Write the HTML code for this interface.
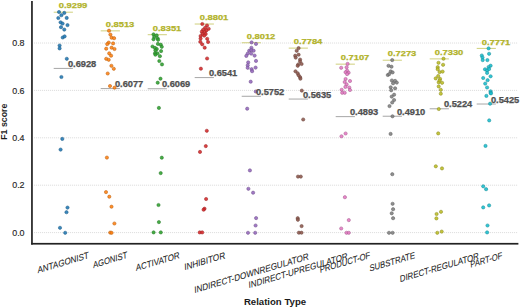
<!DOCTYPE html>
<html><head><meta charset="utf-8"><title>F1 score by Relation Type</title>
<style>
html,body{margin:0;padding:0;background:#fff;}
body{width:520px;height:307px;overflow:hidden;font-family:"Liberation Sans", sans-serif;}
svg{display:block;}
text{font-family:"Liberation Sans", sans-serif;}
</style></head><body>
<svg width="520" height="307" viewBox="0 0 520 307">
<rect x="0" y="0" width="520" height="307" fill="#fff"/>
<g stroke="#d6d6d6" stroke-width="0.9" stroke-dasharray="1 1">
<line x1="34.1" y1="232.60" x2="518" y2="232.60"/>
<line x1="34.1" y1="185.20" x2="518" y2="185.20"/>
<line x1="34.1" y1="137.80" x2="518" y2="137.80"/>
<line x1="34.1" y1="90.40" x2="518" y2="90.40"/>
<line x1="34.1" y1="43.00" x2="518" y2="43.00"/>
</g>
<g fill="#262626" stroke="#262626" stroke-width="0.15" font-size="9.1" text-anchor="end">
<text x="24.6" y="235.85" textLength="12.4" lengthAdjust="spacingAndGlyphs">0.0</text>
<text x="24.6" y="188.45" textLength="12.4" lengthAdjust="spacingAndGlyphs">0.2</text>
<text x="24.6" y="141.05" textLength="12.4" lengthAdjust="spacingAndGlyphs">0.4</text>
<text x="24.6" y="93.65" textLength="12.4" lengthAdjust="spacingAndGlyphs">0.6</text>
<text x="24.6" y="46.25" textLength="12.4" lengthAdjust="spacingAndGlyphs">0.8</text>
</g>
<text transform="translate(7.3,121.7) rotate(-90)" text-anchor="middle" font-size="8.9" font-weight="bold" fill="#1a1a1a" textLength="36.3" lengthAdjust="spacingAndGlyphs">F1 score</text>
<text x="275" y="304.6" text-anchor="middle" font-size="8.6" font-weight="bold" fill="#1a1a1a" textLength="62.2" lengthAdjust="spacingAndGlyphs">Relation Type</text>
<g fill="#1e1e1e" stroke="#1e1e1e" stroke-width="0.08" font-size="9.2" text-anchor="middle">
<text transform="matrix(1,-0.2962,0.05,1,63.20,262.40)" x="0" y="3.29" textLength="51.2" lengthAdjust="spacingAndGlyphs">ANTAGONIST</text>
<text transform="matrix(1,-0.2962,0.05,1,110.15,259.75)" x="0" y="3.29" textLength="34.3" lengthAdjust="spacingAndGlyphs">AGONIST</text>
<text transform="matrix(1,-0.2962,0.05,1,157.75,261.35)" x="0" y="3.29" textLength="43.7" lengthAdjust="spacingAndGlyphs">ACTIVATOR</text>
<text transform="matrix(1,-0.2962,0.05,1,204.65,260.95)" x="0" y="3.29" textLength="40.9" lengthAdjust="spacingAndGlyphs">INHIBITOR</text>
<text transform="matrix(1,-0.2962,0.05,1,251.50,273.00)" x="0" y="3.29" textLength="114.2" lengthAdjust="spacingAndGlyphs">INDIRECT-DOWNREGULATOR</text>
<text transform="matrix(1,-0.2962,0.05,1,298.10,270.40)" x="0" y="3.29" textLength="99.0" lengthAdjust="spacingAndGlyphs">INDIRECT-UPREGULATOR</text>
<text transform="matrix(1,-0.2962,0.05,1,344.95,262.15)" x="0" y="3.29" textLength="50.3" lengthAdjust="spacingAndGlyphs">PRODUCT-OF</text>
<text transform="matrix(1,-0.2962,0.05,1,392.20,261.60)" x="0" y="3.29" textLength="45.4" lengthAdjust="spacingAndGlyphs">SUBSTRATE</text>
<text transform="matrix(1,-0.2962,0.05,1,439.35,267.30)" x="0" y="3.29" textLength="78.9" lengthAdjust="spacingAndGlyphs">DIRECT-REGULATOR</text>
<text transform="matrix(1,-0.2962,0.05,1,486.25,259.70)" x="0" y="3.29" textLength="31.7" lengthAdjust="spacingAndGlyphs">PART-OF</text>
</g>
<line x1="53.7" y1="12.21" x2="72.9" y2="12.21" stroke="#d4d488" stroke-width="1.1"/>
<line x1="53.7" y1="68.41" x2="72.9" y2="68.41" stroke="#a6a6a6" stroke-width="1"/>
<line x1="100.7" y1="30.84" x2="119.9" y2="30.84" stroke="#d4d488" stroke-width="1.1"/>
<line x1="100.7" y1="88.58" x2="119.9" y2="88.58" stroke="#a6a6a6" stroke-width="1"/>
<line x1="147.7" y1="34.68" x2="166.9" y2="34.68" stroke="#d4d488" stroke-width="1.1"/>
<line x1="147.7" y1="88.76" x2="166.9" y2="88.76" stroke="#a6a6a6" stroke-width="1"/>
<line x1="194.7" y1="24.02" x2="213.9" y2="24.02" stroke="#d4d488" stroke-width="1.1"/>
<line x1="194.7" y1="77.58" x2="213.9" y2="77.58" stroke="#a6a6a6" stroke-width="1"/>
<line x1="241.7" y1="42.72" x2="260.9" y2="42.72" stroke="#d4d488" stroke-width="1.1"/>
<line x1="241.7" y1="96.28" x2="260.9" y2="96.28" stroke="#a6a6a6" stroke-width="1"/>
<line x1="288.7" y1="48.12" x2="307.9" y2="48.12" stroke="#d4d488" stroke-width="1.1"/>
<line x1="288.7" y1="99.05" x2="307.9" y2="99.05" stroke="#a6a6a6" stroke-width="1"/>
<line x1="335.7" y1="64.16" x2="354.9" y2="64.16" stroke="#d4d488" stroke-width="1.1"/>
<line x1="335.7" y1="116.64" x2="354.9" y2="116.64" stroke="#a6a6a6" stroke-width="1"/>
<line x1="382.7" y1="60.23" x2="401.9" y2="60.23" stroke="#d4d488" stroke-width="1.1"/>
<line x1="382.7" y1="116.23" x2="401.9" y2="116.23" stroke="#a6a6a6" stroke-width="1"/>
<line x1="429.7" y1="58.88" x2="448.9" y2="58.88" stroke="#d4d488" stroke-width="1.1"/>
<line x1="429.7" y1="108.79" x2="448.9" y2="108.79" stroke="#a6a6a6" stroke-width="1"/>
<line x1="476.7" y1="48.43" x2="495.9" y2="48.43" stroke="#d4d488" stroke-width="1.1"/>
<line x1="476.7" y1="104.03" x2="495.9" y2="104.03" stroke="#a6a6a6" stroke-width="1"/>
<g fill="#1f77b4" fill-opacity="0.88" stroke="#1f5d88" stroke-width="0.55">
<circle cx="59.0" cy="12.0" r="1.62"/>
<circle cx="64.3" cy="12.9" r="1.62"/>
<circle cx="61.4" cy="15.2" r="1.62"/>
<circle cx="58.3" cy="18.0" r="1.62"/>
<circle cx="66.7" cy="17.9" r="1.62"/>
<circle cx="60.6" cy="22.3" r="1.62"/>
<circle cx="62.6" cy="23.6" r="1.62"/>
<circle cx="67.5" cy="25.1" r="1.62"/>
<circle cx="61.0" cy="27.2" r="1.62"/>
<circle cx="64.3" cy="29.6" r="1.62"/>
<circle cx="62.7" cy="37.5" r="1.62"/>
<circle cx="64.6" cy="36.4" r="1.62"/>
<circle cx="59.6" cy="45.5" r="1.62"/>
<circle cx="59.6" cy="48.4" r="1.62"/>
<circle cx="66.8" cy="58.8" r="1.62"/>
<circle cx="61.4" cy="77.0" r="1.62"/>
<circle cx="62.3" cy="138.9" r="1.62"/>
<circle cx="60.6" cy="149.6" r="1.62"/>
<circle cx="67.5" cy="207.6" r="1.62"/>
<circle cx="66.5" cy="212.2" r="1.62"/>
<circle cx="60.0" cy="227.8" r="1.62"/>
<circle cx="65.2" cy="232.8" r="1.62"/>
</g>
<g fill="#ff7f0e" fill-opacity="0.88" stroke="#bc6213" stroke-width="0.55">
<circle cx="109.0" cy="30.7" r="1.62"/>
<circle cx="110.4" cy="34.6" r="1.62"/>
<circle cx="111.6" cy="37.7" r="1.62"/>
<circle cx="114.1" cy="38.2" r="1.62"/>
<circle cx="108.7" cy="42.6" r="1.62"/>
<circle cx="107.2" cy="44.1" r="1.62"/>
<circle cx="113.1" cy="43.4" r="1.62"/>
<circle cx="106.2" cy="48.7" r="1.62"/>
<circle cx="111.6" cy="47.7" r="1.62"/>
<circle cx="114.5" cy="49.0" r="1.62"/>
<circle cx="109.2" cy="53.4" r="1.62"/>
<circle cx="111.1" cy="55.7" r="1.62"/>
<circle cx="106.2" cy="58.8" r="1.62"/>
<circle cx="108.7" cy="59.8" r="1.62"/>
<circle cx="111.4" cy="65.8" r="1.62"/>
<circle cx="113.8" cy="68.8" r="1.62"/>
<circle cx="107.7" cy="73.5" r="1.62"/>
<circle cx="110.0" cy="86.0" r="1.62"/>
<circle cx="114.5" cy="87.7" r="1.62"/>
<circle cx="106.9" cy="157.6" r="1.62"/>
<circle cx="106.0" cy="192.1" r="1.62"/>
<circle cx="109.3" cy="196.7" r="1.62"/>
<circle cx="111.5" cy="206.7" r="1.62"/>
<circle cx="114.4" cy="223.5" r="1.62"/>
<circle cx="110.2" cy="232.6" r="1.62"/>
<circle cx="111.6" cy="232.8" r="1.62"/>
</g>
<g fill="#2ca02c" fill-opacity="0.88" stroke="#287a28" stroke-width="0.55">
<circle cx="153.5" cy="34.4" r="1.62"/>
<circle cx="156.7" cy="35.4" r="1.62"/>
<circle cx="154.2" cy="37.0" r="1.62"/>
<circle cx="157.6" cy="38.3" r="1.62"/>
<circle cx="153.5" cy="39.3" r="1.62"/>
<circle cx="158.1" cy="39.8" r="1.62"/>
<circle cx="157.9" cy="43.9" r="1.62"/>
<circle cx="160.8" cy="44.7" r="1.62"/>
<circle cx="161.8" cy="46.8" r="1.62"/>
<circle cx="152.5" cy="46.5" r="1.62"/>
<circle cx="155.0" cy="47.9" r="1.62"/>
<circle cx="156.8" cy="49.0" r="1.62"/>
<circle cx="155.4" cy="50.4" r="1.62"/>
<circle cx="161.1" cy="51.1" r="1.62"/>
<circle cx="155.0" cy="53.3" r="1.62"/>
<circle cx="157.5" cy="53.3" r="1.62"/>
<circle cx="155.4" cy="54.7" r="1.62"/>
<circle cx="159.9" cy="56.2" r="1.62"/>
<circle cx="159.3" cy="61.0" r="1.62"/>
<circle cx="162.0" cy="64.4" r="1.62"/>
<circle cx="160.5" cy="78.7" r="1.62"/>
<circle cx="157.7" cy="82.7" r="1.62"/>
<circle cx="158.9" cy="107.9" r="1.62"/>
<circle cx="161.8" cy="157.7" r="1.62"/>
<circle cx="160.7" cy="173.1" r="1.62"/>
<circle cx="158.5" cy="205.0" r="1.62"/>
<circle cx="158.9" cy="222.1" r="1.62"/>
<circle cx="153.6" cy="232.4" r="1.62"/>
<circle cx="160.8" cy="232.4" r="1.62"/>
</g>
<g fill="#d62728" fill-opacity="0.88" stroke="#9f2526" stroke-width="0.55">
<circle cx="202.3" cy="24.0" r="1.62"/>
<circle cx="207.0" cy="25.5" r="1.62"/>
<circle cx="205.1" cy="27.8" r="1.62"/>
<circle cx="208.7" cy="28.8" r="1.62"/>
<circle cx="203.1" cy="29.8" r="1.62"/>
<circle cx="206.4" cy="30.4" r="1.62"/>
<circle cx="201.8" cy="31.7" r="1.62"/>
<circle cx="204.7" cy="32.0" r="1.62"/>
<circle cx="202.5" cy="34.0" r="1.62"/>
<circle cx="205.7" cy="34.0" r="1.62"/>
<circle cx="200.6" cy="36.0" r="1.62"/>
<circle cx="204.2" cy="35.6" r="1.62"/>
<circle cx="207.2" cy="38.8" r="1.62"/>
<circle cx="200.6" cy="38.6" r="1.62"/>
<circle cx="200.3" cy="41.8" r="1.62"/>
<circle cx="208.1" cy="42.0" r="1.62"/>
<circle cx="202.2" cy="44.3" r="1.62"/>
<circle cx="204.7" cy="47.7" r="1.62"/>
<circle cx="207.1" cy="58.5" r="1.62"/>
<circle cx="200.9" cy="68.7" r="1.62"/>
<circle cx="206.8" cy="130.8" r="1.62"/>
<circle cx="205.8" cy="146.1" r="1.62"/>
<circle cx="200.0" cy="151.9" r="1.62"/>
<circle cx="206.1" cy="199.0" r="1.62"/>
<circle cx="204.5" cy="208.7" r="1.62"/>
<circle cx="203.6" cy="209.7" r="1.62"/>
<circle cx="199.7" cy="232.4" r="1.62"/>
<circle cx="202.2" cy="232.4" r="1.62"/>
</g>
<g fill="#9467bd" fill-opacity="0.88" stroke="#71528e" stroke-width="0.55">
<circle cx="251.6" cy="42.4" r="1.62"/>
<circle cx="256.0" cy="43.9" r="1.62"/>
<circle cx="251.4" cy="47.8" r="1.62"/>
<circle cx="249.2" cy="50.7" r="1.62"/>
<circle cx="251.2" cy="50.2" r="1.62"/>
<circle cx="253.6" cy="50.7" r="1.62"/>
<circle cx="247.7" cy="53.6" r="1.62"/>
<circle cx="251.2" cy="53.6" r="1.62"/>
<circle cx="246.3" cy="55.9" r="1.62"/>
<circle cx="254.6" cy="55.6" r="1.62"/>
<circle cx="256.0" cy="60.9" r="1.62"/>
<circle cx="248.2" cy="62.4" r="1.62"/>
<circle cx="247.7" cy="65.3" r="1.62"/>
<circle cx="247.7" cy="67.8" r="1.62"/>
<circle cx="251.6" cy="69.2" r="1.62"/>
<circle cx="255.6" cy="67.6" r="1.62"/>
<circle cx="252.1" cy="71.2" r="1.62"/>
<circle cx="250.7" cy="81.7" r="1.62"/>
<circle cx="255.8" cy="91.5" r="1.62"/>
<circle cx="247.2" cy="108.7" r="1.62"/>
<circle cx="249.9" cy="170.4" r="1.62"/>
<circle cx="248.4" cy="188.8" r="1.62"/>
<circle cx="253.1" cy="192.7" r="1.62"/>
<circle cx="256.1" cy="218.1" r="1.62"/>
<circle cx="255.6" cy="225.5" r="1.62"/>
<circle cx="248.0" cy="232.8" r="1.62"/>
<circle cx="255.2" cy="232.8" r="1.62"/>
</g>
<g fill="#8c564b" fill-opacity="0.88" stroke="#6c463e" stroke-width="0.55">
<circle cx="298.6" cy="48.1" r="1.62"/>
<circle cx="296.7" cy="50.8" r="1.62"/>
<circle cx="298.6" cy="54.7" r="1.62"/>
<circle cx="295.2" cy="55.7" r="1.62"/>
<circle cx="295.7" cy="57.6" r="1.62"/>
<circle cx="300.1" cy="59.6" r="1.62"/>
<circle cx="300.1" cy="61.5" r="1.62"/>
<circle cx="298.2" cy="64.5" r="1.62"/>
<circle cx="301.6" cy="64.0" r="1.62"/>
<circle cx="297.7" cy="65.8" r="1.62"/>
<circle cx="295.5" cy="71.3" r="1.62"/>
<circle cx="297.7" cy="73.3" r="1.62"/>
<circle cx="298.6" cy="75.3" r="1.62"/>
<circle cx="300.1" cy="77.2" r="1.62"/>
<circle cx="300.4" cy="78.7" r="1.62"/>
<circle cx="301.8" cy="90.6" r="1.62"/>
<circle cx="303.2" cy="119.5" r="1.62"/>
<circle cx="298.0" cy="176.6" r="1.62"/>
<circle cx="300.8" cy="176.6" r="1.62"/>
<circle cx="297.7" cy="218.2" r="1.62"/>
<circle cx="297.9" cy="219.8" r="1.62"/>
<circle cx="301.6" cy="226.1" r="1.62"/>
<circle cx="298.9" cy="232.7" r="1.62"/>
<circle cx="301.5" cy="232.7" r="1.62"/>
</g>
<g fill="#e377c2" fill-opacity="0.88" stroke="#a85d91" stroke-width="0.55">
<circle cx="347.6" cy="63.9" r="1.62"/>
<circle cx="341.2" cy="67.8" r="1.62"/>
<circle cx="346.6" cy="67.3" r="1.62"/>
<circle cx="347.1" cy="70.7" r="1.62"/>
<circle cx="345.6" cy="72.2" r="1.62"/>
<circle cx="348.6" cy="72.7" r="1.62"/>
<circle cx="347.1" cy="74.1" r="1.62"/>
<circle cx="345.6" cy="79.0" r="1.62"/>
<circle cx="350.0" cy="81.0" r="1.62"/>
<circle cx="344.7" cy="82.0" r="1.62"/>
<circle cx="346.6" cy="84.4" r="1.62"/>
<circle cx="345.4" cy="86.9" r="1.62"/>
<circle cx="349.3" cy="87.5" r="1.62"/>
<circle cx="341.7" cy="89.8" r="1.62"/>
<circle cx="350.0" cy="90.0" r="1.62"/>
<circle cx="342.2" cy="92.8" r="1.62"/>
<circle cx="344.7" cy="92.8" r="1.62"/>
<circle cx="345.6" cy="133.5" r="1.62"/>
<circle cx="341.5" cy="136.3" r="1.62"/>
<circle cx="344.9" cy="197.2" r="1.62"/>
<circle cx="348.8" cy="220.1" r="1.62"/>
<circle cx="341.2" cy="228.5" r="1.62"/>
<circle cx="346.5" cy="232.8" r="1.62"/>
<circle cx="348.8" cy="232.8" r="1.62"/>
</g>
<g fill="#7f7f7f" fill-opacity="0.88" stroke="#626262" stroke-width="0.55">
<circle cx="392.2" cy="60.1" r="1.62"/>
<circle cx="388.5" cy="65.8" r="1.62"/>
<circle cx="391.5" cy="66.7" r="1.62"/>
<circle cx="390.7" cy="71.4" r="1.62"/>
<circle cx="392.6" cy="72.4" r="1.62"/>
<circle cx="387.8" cy="75.0" r="1.62"/>
<circle cx="389.2" cy="74.1" r="1.62"/>
<circle cx="391.9" cy="80.5" r="1.62"/>
<circle cx="395.1" cy="80.9" r="1.62"/>
<circle cx="396.8" cy="82.6" r="1.62"/>
<circle cx="393.1" cy="83.3" r="1.62"/>
<circle cx="390.7" cy="87.3" r="1.62"/>
<circle cx="395.1" cy="88.3" r="1.62"/>
<circle cx="391.2" cy="90.3" r="1.62"/>
<circle cx="394.1" cy="94.7" r="1.62"/>
<circle cx="391.7" cy="96.6" r="1.62"/>
<circle cx="394.1" cy="100.0" r="1.62"/>
<circle cx="392.2" cy="102.5" r="1.62"/>
<circle cx="389.5" cy="106.1" r="1.62"/>
<circle cx="392.5" cy="116.3" r="1.62"/>
<circle cx="390.6" cy="133.9" r="1.62"/>
<circle cx="392.3" cy="174.2" r="1.62"/>
<circle cx="392.6" cy="203.8" r="1.62"/>
<circle cx="393.1" cy="209.2" r="1.62"/>
<circle cx="391.7" cy="213.3" r="1.62"/>
<circle cx="393.1" cy="218.2" r="1.62"/>
<circle cx="389.0" cy="232.8" r="1.62"/>
<circle cx="392.6" cy="232.8" r="1.62"/>
</g>
<g fill="#bcbd22" fill-opacity="0.88" stroke="#8d8e21" stroke-width="0.55">
<circle cx="443.5" cy="58.7" r="1.62"/>
<circle cx="438.5" cy="62.8" r="1.62"/>
<circle cx="443.1" cy="64.8" r="1.62"/>
<circle cx="437.7" cy="67.2" r="1.62"/>
<circle cx="437.7" cy="69.2" r="1.62"/>
<circle cx="439.6" cy="72.1" r="1.62"/>
<circle cx="442.6" cy="71.6" r="1.62"/>
<circle cx="438.2" cy="76.0" r="1.62"/>
<circle cx="435.7" cy="78.4" r="1.62"/>
<circle cx="440.1" cy="78.9" r="1.62"/>
<circle cx="438.7" cy="82.3" r="1.62"/>
<circle cx="442.1" cy="82.8" r="1.62"/>
<circle cx="439.6" cy="80.5" r="1.62"/>
<circle cx="438.7" cy="86.4" r="1.62"/>
<circle cx="440.8" cy="89.8" r="1.62"/>
<circle cx="440.8" cy="93.7" r="1.62"/>
<circle cx="438.8" cy="109.0" r="1.62"/>
<circle cx="438.2" cy="133.4" r="1.62"/>
<circle cx="435.8" cy="166.3" r="1.62"/>
<circle cx="442.0" cy="168.4" r="1.62"/>
<circle cx="441.0" cy="211.8" r="1.62"/>
<circle cx="436.6" cy="214.0" r="1.62"/>
<circle cx="436.4" cy="218.4" r="1.62"/>
<circle cx="437.3" cy="232.8" r="1.62"/>
<circle cx="441.7" cy="231.6" r="1.62"/>
</g>
<g fill="#17becf" fill-opacity="0.88" stroke="#1a8f9a" stroke-width="0.55">
<circle cx="488.6" cy="48.4" r="1.62"/>
<circle cx="489.1" cy="53.8" r="1.62"/>
<circle cx="481.8" cy="55.5" r="1.62"/>
<circle cx="482.5" cy="57.5" r="1.62"/>
<circle cx="482.7" cy="60.1" r="1.62"/>
<circle cx="487.4" cy="60.1" r="1.62"/>
<circle cx="490.6" cy="65.7" r="1.62"/>
<circle cx="488.6" cy="67.0" r="1.62"/>
<circle cx="485.0" cy="69.3" r="1.62"/>
<circle cx="487.1" cy="70.4" r="1.62"/>
<circle cx="489.1" cy="69.0" r="1.62"/>
<circle cx="487.1" cy="72.9" r="1.62"/>
<circle cx="490.6" cy="76.3" r="1.62"/>
<circle cx="483.2" cy="78.0" r="1.62"/>
<circle cx="487.6" cy="80.2" r="1.62"/>
<circle cx="485.2" cy="83.6" r="1.62"/>
<circle cx="487.1" cy="87.5" r="1.62"/>
<circle cx="490.6" cy="91.3" r="1.62"/>
<circle cx="490.6" cy="92.9" r="1.62"/>
<circle cx="486.4" cy="95.9" r="1.62"/>
<circle cx="491.0" cy="93.4" r="1.62"/>
<circle cx="490.1" cy="103.7" r="1.62"/>
<circle cx="489.2" cy="120.4" r="1.62"/>
<circle cx="485.5" cy="145.9" r="1.62"/>
<circle cx="483.2" cy="186.3" r="1.62"/>
<circle cx="486.1" cy="189.2" r="1.62"/>
<circle cx="489.1" cy="205.4" r="1.62"/>
<circle cx="483.2" cy="207.4" r="1.62"/>
<circle cx="487.5" cy="225.5" r="1.62"/>
<circle cx="487.1" cy="232.4" r="1.62"/>
</g>
<text x="58.7" y="8.31" font-size="8.0" font-weight="bold" fill="#b2b32a" stroke="#b2b32a" stroke-width="0.25" textLength="28.6" lengthAdjust="spacingAndGlyphs">0.9299</text>
<text x="67.9" y="66.91" font-size="8.3" font-weight="bold" fill="#505050" stroke="#505050" stroke-width="0.25" textLength="28.4" lengthAdjust="spacingAndGlyphs">0.6928</text>
<text x="105.7" y="26.94" font-size="8.0" font-weight="bold" fill="#b2b32a" stroke="#b2b32a" stroke-width="0.25" textLength="28.6" lengthAdjust="spacingAndGlyphs">0.8513</text>
<text x="114.9" y="87.08" font-size="8.3" font-weight="bold" fill="#505050" stroke="#505050" stroke-width="0.25" textLength="28.4" lengthAdjust="spacingAndGlyphs">0.6077</text>
<text x="152.7" y="30.78" font-size="8.0" font-weight="bold" fill="#b2b32a" stroke="#b2b32a" stroke-width="0.25" textLength="28.6" lengthAdjust="spacingAndGlyphs">0.8351</text>
<text x="161.9" y="87.26" font-size="8.3" font-weight="bold" fill="#505050" stroke="#505050" stroke-width="0.25" textLength="28.4" lengthAdjust="spacingAndGlyphs">0.6069</text>
<text x="199.7" y="20.12" font-size="8.0" font-weight="bold" fill="#b2b32a" stroke="#b2b32a" stroke-width="0.25" textLength="28.6" lengthAdjust="spacingAndGlyphs">0.8801</text>
<text x="208.9" y="76.08" font-size="8.3" font-weight="bold" fill="#505050" stroke="#505050" stroke-width="0.25" textLength="28.4" lengthAdjust="spacingAndGlyphs">0.6541</text>
<text x="246.7" y="38.82" font-size="8.0" font-weight="bold" fill="#b2b32a" stroke="#b2b32a" stroke-width="0.25" textLength="28.6" lengthAdjust="spacingAndGlyphs">0.8012</text>
<text x="255.9" y="94.78" font-size="8.3" font-weight="bold" fill="#505050" stroke="#505050" stroke-width="0.25" textLength="28.4" lengthAdjust="spacingAndGlyphs">0.5752</text>
<text x="293.7" y="44.22" font-size="8.0" font-weight="bold" fill="#b2b32a" stroke="#b2b32a" stroke-width="0.25" textLength="28.6" lengthAdjust="spacingAndGlyphs">0.7784</text>
<text x="302.9" y="97.55" font-size="8.3" font-weight="bold" fill="#505050" stroke="#505050" stroke-width="0.25" textLength="28.4" lengthAdjust="spacingAndGlyphs">0.5635</text>
<text x="340.7" y="60.26" font-size="8.0" font-weight="bold" fill="#b2b32a" stroke="#b2b32a" stroke-width="0.25" textLength="28.6" lengthAdjust="spacingAndGlyphs">0.7107</text>
<text x="349.9" y="115.14" font-size="8.3" font-weight="bold" fill="#505050" stroke="#505050" stroke-width="0.25" textLength="28.4" lengthAdjust="spacingAndGlyphs">0.4893</text>
<text x="387.7" y="56.33" font-size="8.0" font-weight="bold" fill="#b2b32a" stroke="#b2b32a" stroke-width="0.25" textLength="28.6" lengthAdjust="spacingAndGlyphs">0.7273</text>
<text x="396.9" y="114.73" font-size="8.3" font-weight="bold" fill="#505050" stroke="#505050" stroke-width="0.25" textLength="28.4" lengthAdjust="spacingAndGlyphs">0.4910</text>
<text x="434.7" y="54.98" font-size="8.0" font-weight="bold" fill="#b2b32a" stroke="#b2b32a" stroke-width="0.25" textLength="28.6" lengthAdjust="spacingAndGlyphs">0.7330</text>
<text x="443.9" y="107.29" font-size="8.3" font-weight="bold" fill="#505050" stroke="#505050" stroke-width="0.25" textLength="28.4" lengthAdjust="spacingAndGlyphs">0.5224</text>
<text x="481.7" y="44.53" font-size="8.0" font-weight="bold" fill="#b2b32a" stroke="#b2b32a" stroke-width="0.25" textLength="28.6" lengthAdjust="spacingAndGlyphs">0.7771</text>
<text x="490.9" y="102.53" font-size="8.3" font-weight="bold" fill="#505050" stroke="#505050" stroke-width="0.25" textLength="28.4" lengthAdjust="spacingAndGlyphs">0.5425</text>
<rect x="31.1" y="1" width="1.7" height="243.6" fill="#222"/>
<rect x="31.1" y="242.9" width="487.3" height="1.7" fill="#222"/>
</svg>
</body></html>
